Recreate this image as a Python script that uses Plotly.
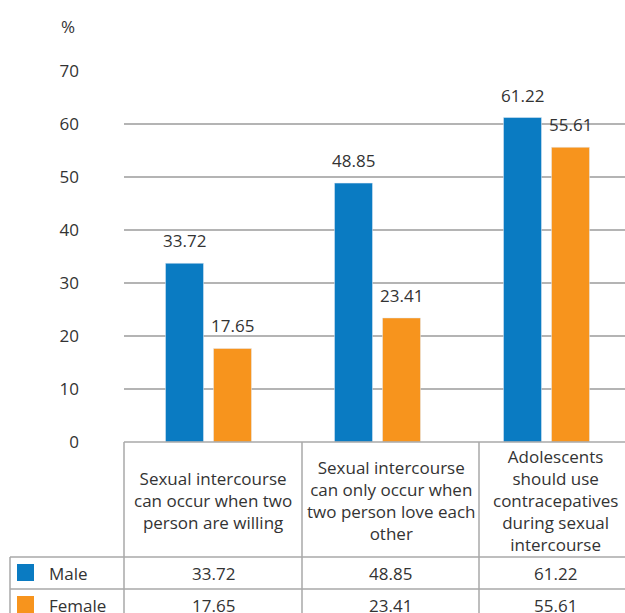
import plotly.graph_objects as go

categories = [
    "Sexual intercourse<br>can occur when two<br>person are willing",
    "Sexual intercourse<br>can only occur when<br>two person love each<br>other",
    "Adolescents<br>should use<br>contracepatives<br>during sexual<br>intercourse",
]
male = [33.72, 48.85, 61.22]
female = [17.65, 23.41, 55.61]
series_names = ["Male", "Female"]
y_ticks = [0, 10, 20, 30, 40, 50, 60, 70]

BLUE = "#0a7bc2"
ORANGE = "#f7941d"
GRID = "#b4b4b4"
TXT = "#333333"
FONT = "Open Sans"
FS = 17

W, H = 625, 613
L, R, T, B = 124, 625, 71, 442  # plot area pixels
pw, ph = R - L, B - T
cat_px = 169.0

def px(x):
    return (x - L) / pw

def py(y):
    return (B - y) / ph

xidx = list(range(len(categories)))
bw = 38 / cat_px

fig = go.Figure()
fig.add_trace(go.Bar(x=xidx, y=male, name=series_names[0], marker_color=BLUE,
                     width=bw, offset=-43 / cat_px, showlegend=False))
fig.add_trace(go.Bar(x=xidx, y=female, name=series_names[1], marker_color=ORANGE,
                     width=bw, offset=5 / cat_px, showlegend=False))

ann = []
# value labels above bars
for i in xidx:
    ann.append(dict(x=i, y=male[i], xref="x", yref="y", text=f"{male[i]:.2f}",
                    showarrow=False, xshift=-24, yshift=9, yanchor="bottom",
                    font=dict(family=FONT, size=FS, color=TXT)))
    ann.append(dict(x=i, y=female[i], xref="x", yref="y", text=f"{female[i]:.2f}",
                    showarrow=False, xshift=24, yshift=9, yanchor="bottom",
                    font=dict(family=FONT, size=FS, color=TXT)))

# "%" label
ann.append(dict(x=px(68), y=py(27), xref="paper", yref="paper", text="%",
                showarrow=False, xanchor="center", yanchor="middle",
                font=dict(family=FONT, size=FS, color=TXT)))

# table
col_centers = [213, 390.5, 555]
for k, c in enumerate(categories):
    ann.append(dict(x=px(col_centers[k]), y=py(500), xref="paper", yref="paper",
                    text=c, showarrow=False, xanchor="center", yanchor="middle",
                    align="center", font=dict(family=FONT, size=FS, color=TXT)))
row_y = [573, 605]
for r, (vals, name) in enumerate([(male, series_names[0]), (female, series_names[1])]):
    for k in range(3):
        ann.append(dict(x=px(col_centers[k]), y=py(row_y[r]), xref="paper", yref="paper",
                        text=f"{vals[k]:.2f}", showarrow=False, xanchor="center",
                        yanchor="middle", font=dict(family=FONT, size=FS, color=TXT)))
    ann.append(dict(x=px(47), y=py(row_y[r]), xref="paper", yref="paper",
                    text=name, showarrow=False, xanchor="left", yanchor="middle",
                    font=dict(family=FONT, size=FS, color=TXT)))

shapes = []
line = dict(color="#a9a9a9", width=1.5)
# horizontal lines
shapes.append(dict(type="line", xref="paper", yref="paper", x0=px(124), x1=px(625),
                   y0=py(442), y1=py(442), line=line))
for yy in [557, 589]:
    shapes.append(dict(type="line", xref="paper", yref="paper", x0=px(10), x1=px(625),
                       y0=py(yy), y1=py(yy), line=line))
# vertical lines
for xx in [124, 302, 479]:
    shapes.append(dict(type="line", xref="paper", yref="paper", x0=px(xx), x1=px(xx),
                       y0=py(442), y1=py(613), line=line))
shapes.append(dict(type="line", xref="paper", yref="paper", x0=px(10), x1=px(10),
                   y0=py(557), y1=py(613), line=line))
# legend squares
for yy, col in [(564, BLUE), (596, ORANGE)]:
    shapes.append(dict(type="rect", xref="paper", yref="paper", x0=px(17), x1=px(34),
                       y0=py(yy), y1=py(yy + 17), fillcolor=col, line=dict(width=0)))

fig.update_layout(
    width=W, height=H,
    margin=dict(l=L, r=W - R, t=T, b=H - B, pad=0),
    plot_bgcolor="white", paper_bgcolor="white",
    annotations=ann, shapes=shapes,
    barmode="overlay",
    font=dict(family=FONT, color=TXT, size=FS),
)
fig.update_xaxes(range=[-0.5, -0.5 + pw / cat_px], showticklabels=False,
                 showgrid=False, zeroline=False, showline=False, ticks="")
fig.update_yaxes(range=[0, 70], tickvals=y_ticks, ticktext=[str(v) for v in y_ticks],
                 showgrid=True, gridcolor=GRID, gridwidth=1.5, zeroline=False,
                 showline=False, ticks="", ticklabelstandoff=44,
                 tickfont=dict(family=FONT, size=FS, color=TXT))

fig.write_html(
    "out.html",
    config={"displayModeBar": False},
    post_script="document.body.style.margin='0';document.body.style.overflow='hidden';",
)
